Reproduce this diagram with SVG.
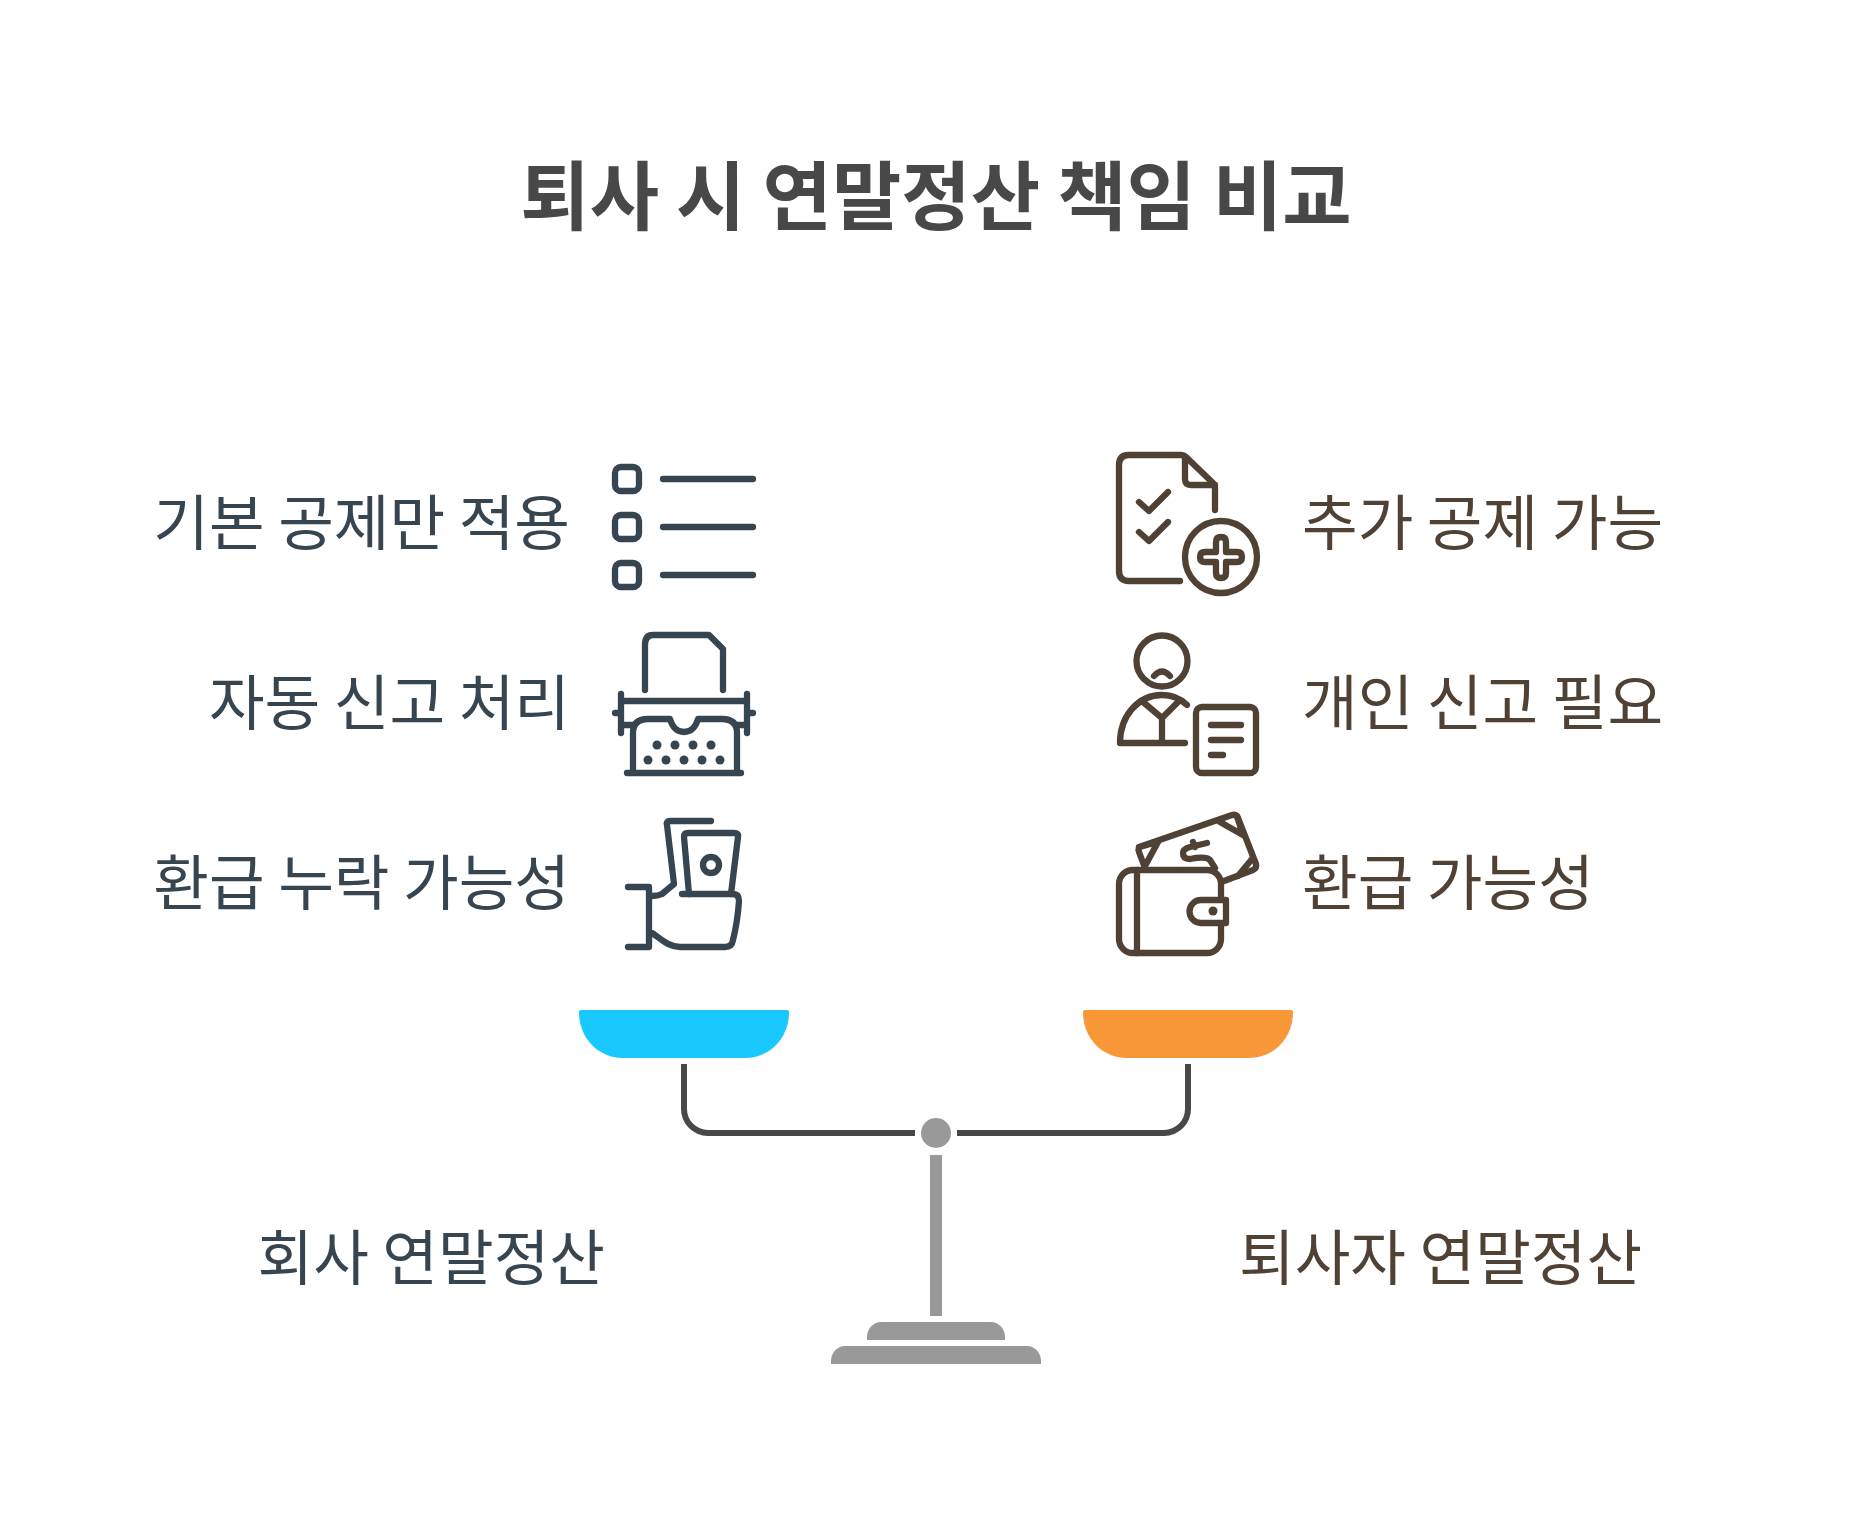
<svg xmlns="http://www.w3.org/2000/svg" width="1872" height="1537" viewBox="0 0 1872 1537">
<style>
text{font-family:"Noto Sans CJK KR","Noto Sans",sans-serif}
.t{font-size:75.400px;font-weight:700;fill:#484848;text-anchor:middle}
.l{font-size:60.500px;fill:#36454f;text-anchor:end}
.r{font-size:60.500px;fill:#4f4235}
.il{fill:none;stroke:#36454f;stroke-width:6.300;stroke-linecap:round;stroke-linejoin:round}
.ir{fill:none;stroke:#4f4235;stroke-width:6.300;stroke-linecap:round;stroke-linejoin:round}
.dl{fill:#36454f}
.dr{fill:#4f4235}
.g{fill:#999}
</style>
<rect width="1872" height="1537" fill="#fff"/>
<g id="title"><text class="t" x="936" y="224">퇴사 시 연말정산 책임 비교</text></g>
<g id="connectors">
<path d="M684 1064V1109a24 24 0 0 0 24 24H915M1188 1064V1109a24 24 0 0 1-24 24H957" fill="none" stroke="#484848" stroke-width="6"/>
<rect class="g" x="930" y="1155" width="12" height="161"/>
</g>
<g id="pan-left"><path d="M581 1010H787Q789 1010 789 1012C789 1038 770 1058 745 1058H623C598 1058 579 1038 579 1012Q579 1010 581 1010Z" fill="#19c8ff"/></g>
<g id="pan-right"><path d="M1085 1010H1291Q1293 1010 1293 1012C1293 1038 1274 1058 1249 1058H1127C1102 1058 1083 1038 1083 1012Q1083 1010 1085 1010Z" fill="#f89738"/></g>
<g id="pivot"><circle class="g" cx="936" cy="1133" r="15"/></g>
<g id="base">
<path class="g" d="M867 1340V1337C867 1329 873 1322 881 1322H991C999 1322 1005 1329 1005 1337V1340Z"/>
<path class="g" d="M831 1364V1361C831 1353 837 1346 845 1346H1027C1035 1346 1041 1353 1041 1361V1364Z"/>
</g>
<g id="label-company"><text class="l" x="605" y="1280">회사 연말정산</text></g>
<g id="label-employee"><text class="r" x="1239" y="1280">퇴사자 연말정산</text></g>
<g id="item-l1"><text class="l" x="570" y="545">기본 공제만 적용</text>
<g class="il"><rect x="615" y="467" width="24" height="24" rx="6"/><rect x="615" y="515" width="24" height="24" rx="6"/><rect x="615" y="563" width="24" height="24" rx="6"/><path d="M663 479H753M663 527H753M663 575H753"/></g></g>
<g id="item-l2"><text class="l" x="570" y="725">자동 신고 처리</text>
<g class="il"><path d="M645 690V645Q645 635 653 635H709L723 649V690"/><path d="M621 694V733M747 694V733M621 701H747M615 713H621M747 713H753M621 725H633M737 725H747"/><path d="M633 773V733Q633 719 648 719H670C672 726 676 732 684 732S696 726 698 719H722Q737 719 737 733V773M627 773H741"/></g>
<g class="dl"><circle cx="657" cy="745" r="4.500"/><circle cx="675" cy="745" r="4.500"/><circle cx="693" cy="745" r="4.500"/><circle cx="711" cy="745" r="4.500"/><circle cx="648" cy="760" r="4.500"/><circle cx="666" cy="760" r="4.500"/><circle cx="684" cy="760" r="4.500"/><circle cx="702" cy="760" r="4.500"/><circle cx="720" cy="760" r="4.500"/></g></g>
<g id="item-l3"><text class="l" x="570" y="905">환급 누락 가능성</text>
<g class="il"><path d="M711 821H670Q666 821 667 825L674 884L662 894Q658 896 652 896"/><path d="M628 887H649V947H628"/><path d="M652 933C660 938 668 947 680 947H725Q732 947 733 940C736 928 738 915 739 901Q739 894 733 894H682"/><path d="M689 894L684 837Q684 833 688 833H734Q739 833 738 837L731 894"/><circle cx="711" cy="865" r="8"/></g></g>
<g id="item-r1"><text class="r" x="1302" y="545">추가 공제 가능</text>
<g class="ir"><path d="M1180 581H1129Q1119 581 1119 571V465Q1119 455 1129 455H1181Q1184 455 1186 457L1213 483Q1215 485 1215 489V510"/><path d="M1185 457V479Q1185 485 1191 485H1215"/><path d="M1139 502L1149 511L1168 492M1139 532L1149 541L1168 522"/><circle cx="1221" cy="557" r="36"/><path d="M1216 542Q1216 537 1221 537Q1226 537 1226 542V552H1237Q1242 552 1242 557Q1242 562 1237 562H1226V573Q1226 578 1221 578Q1216 578 1216 573V562H1205Q1200 562 1200 557Q1200 552 1205 552H1216Z"/></g></g>
<g id="item-r2"><text class="r" x="1302" y="725">개인 신고 필요</text>
<g class="ir"><circle cx="1162" cy="661" r="25.500"/><path d="M1154 676Q1162 667 1170 676"/><path d="M1120 743C1120 716 1138 695 1162 695C1172 695 1181 699 1187 705M1120 743H1185M1143 702L1162 718L1180 700M1162 718V743"/><rect x="1196" y="707" width="60" height="66" rx="6"/><path d="M1211 725H1241M1211 740H1241M1211 755H1223"/></g></g>
<g id="item-r3"><text class="r" x="1302" y="905">환급 가능성</text>
<g class="ir"><path d="M1145 868L1139 852Q1137 848 1142 846L1232 815Q1236 814 1238 818L1256 864Q1257 868 1253 870L1224 881"/><path d="M1139 847L1158 842L1145 866M1220 822L1243 835L1237 816M1238 876L1252 859"/><path d="M1207 843L1190 847Q1183 849 1183 853Q1183 859 1190 859Q1206 856 1210 860L1215 868M1193 842L1195 847"/><rect x="1119" y="870" width="102" height="83" rx="14"/><path d="M1137 870V953"/><path d="M1226 900H1201A11.500 11.500 0 0 0 1201 923H1226Z" fill="#fff"/></g>
<circle class="dr" cx="1213" cy="911" r="4.500"/></g>
</svg>
